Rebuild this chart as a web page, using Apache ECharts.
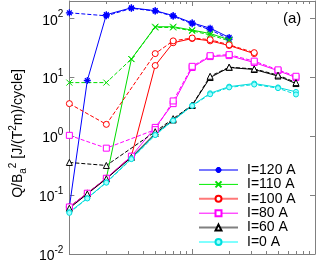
<!DOCTYPE html>
<html><head><meta charset="utf-8">
<script src="https://cdn.jsdelivr.net/npm/echarts@6/dist/echarts.min.js"></script>
<style>html,body{margin:0;padding:0;background:#fff}#c{width:330px;height:268px}</style>
</head><body><div id="c"></div>
<script>
// amplitude axis values (log axis, labels hidden in the reference)
const xValues = [10, 14, 20, 32, 50, 70, 100, 140, 200, 320, 500, 700];
// solid curves
const i120Solid = [0.063, 8.9, 117, 153, 137, 113, 85, 69, 48, null, null, null];
const i110Solid = [0.063, 0.108, 0.194, 20.6, 73, 73, 64, 56, 44, null, null, null];
const i100Solid = [0.063, 0.108, 0.194, 0.46, 16, 39, 46, 42, 35, 25.5, null, null];
const i80Solid  = [0.063, 0.108, 0.194, 0.46, 1.42, 3.6, 14.8, 22.7, 23.6, 18, 13.1, 10];
const i60Solid  = [0.06, 0.105, 0.19, 0.44, 1.12, 1.9, 3.35, 10, 14.8, 13.7, 10.6, 7.9];
const i0Solid   = [0.0515, 0.089, 0.166, 0.42, 1.07, 1.87, 3.35, 5.4, 7.0, 7.9, 6.8, 5.7];
// dashed curves
const i120Dashed = [126, null, 112, 150, 135, 110, 82, 65, 45, null, null, null];
const i110Dashed = [8.2, null, 8.2, 20.6, 71, 71, 62, 53, 42, null, null, null];
const i100Dashed = [3.6, null, 1.6, null, 25.5, 42, 47, 44, 36, 26.5, null, null];
const i80Dashed  = [1.04, null, 0.63, null, 1.3, 4.0, 15.5, 23.5, 24.5, 19, 13.5, 10.5];
const i60Dashed  = [0.36, null, 0.32, null, 1.2, 2.0, 3.4, 10.5, 15, 14, 11, 8.2];
const i0Dashed   = [0.05, 0.088, 0.163, 0.41, 1.05, 1.85, 3.3, 5.2, 6.8, 7.6, 6.6, 5.15];
const seriesNames = ['I=120 A', 'I=110 A', 'I=100 A', 'I=80 A', 'I=60 A', 'I=0 A'];
const xMajorTicks = [10, 100, 1000];
const xMinorTicks = [20, 30, 40, 50, 60, 70, 80, 90, 200, 300, 400, 500, 600, 700, 800, 900];
const yTicks = [0.01, 0.1, 1, 10, 100];

const F = '"Liberation Sans", Arial, Helvetica, sans-serif';
const frame = '#808080';
const STAR = 'path://M5,0L5,10M0,5L10,5M1.6,1.6L8.4,8.4M8.4,1.6L1.6,8.4';
const CROSS = 'path://M0,0L10,10M10,0L0,10';
const styles = [
  {color: '#0000ff', symbol: STAR, size: 7, fill: '#0000ff', bw: 1.3, legendLine: '#7878ff', lw: 2},
  {color: '#00dd00', symbol: CROSS, size: 6, fill: 'none', bw: 1, legendLine: '#00ee00', lw: 1},
  {color: '#ff0000', symbol: 'circle', size: 6, fill: '#ffffff', bw: 1, legendLine: '#ff7878', lw: 2},
  {color: '#ff00ff', symbol: 'rect', size: 6, fill: '#ffffff', bw: 1, legendLine: '#ff00ff', lw: 1},
  {color: '#000000', symbol: 'triangle', size: 6, fill: '#ffffff', bw: 1, legendLine: '#808080', lw: 2},
  {color: '#00dddd', symbol: 'circle', size: 5, fill: '#a0ffff', bw: 1, legendLine: '#00ffff', lw: 1}
];
const solids = [i120Solid, i110Solid, i100Solid, i80Solid, i60Solid, i0Solid];
const dashes = [i120Dashed, i110Dashed, i100Dashed, i80Dashed, i60Dashed, i0Dashed];

function pairs(arr) {
  const out = [];
  xValues.forEach((x, i) => { if (arr[i] != null) out.push([x, arr[i]]); });
  return out;
}
const series = [];
seriesNames.forEach((name, k) => {
  const s = styles[k];
  [[solids[k], 'solid'], [dashes[k], [4, 2]]].forEach(([arr, type]) => {
    series.push({
      name, type: 'line', xAxisIndex: 0, yAxisIndex: 0,
      data: pairs(arr), symbol: s.symbol, symbolSize: s.size, showSymbol: true,
      lineStyle: {color: s.color, width: 1, type},
      itemStyle: {color: s.fill, borderColor: s.color, borderWidth: s.bw},
      emphasis: {disabled: true}, animation: false
    });
  });
});

function xAxis(pos, major) {
  return {
    type: 'log', logBase: 10, min: 10, max: 1000, position: pos,
    axisLine: {show: major, lineStyle: {color: frame, width: 1}},
    axisTick: {show: true, inside: true, length: major ? 5 : 3, customValues: major ? xMajorTicks : xMinorTicks,
      lineStyle: {color: frame, width: 1}},
    axisLabel: {show: false}, splitLine: {show: false}, minorTick: {show: false}
  };
}
function yAxis(pos, labels) {
  return {
    type: 'log', logBase: 10, min: 0.01, max: 200, position: pos,
    axisLine: {show: true, lineStyle: {color: frame, width: 1}},
    axisTick: {show: true, inside: true, length: 5, customValues: yTicks, lineStyle: {color: frame, width: 1}},
    splitLine: {show: false},
    axisLabel: labels ? {
      show: true, margin: 6, customValues: yTicks,
      formatter: v => {
        const e = Math.round(Math.log10(v));
        return '{b|10}{s|' + e + '}';
      },
      rich: {
        b: {fontSize: 14, fontFamily: F, color: '#000', lineHeight: 18, verticalAlign: 'bottom'},
        s: {fontSize: 10, fontFamily: F, color: '#000', lineHeight: 18, verticalAlign: 'top'}
      }
    } : {show: false},
    name: labels ? 'Q/B{sub|a}{sup|2} [J/(T{sup|2}m)/cycle]' : '',
    nameLocation: 'middle', nameGap: 40, nameRotate: 90,
    nameTextStyle: {
      fontSize: 14, fontFamily: F, color: '#000', padding: [0, 12, 0, 0],
      rich: {
        sub: {fontSize: 10, fontFamily: F, color: '#000', verticalAlign: 'bottom', lineHeight: 20},
        sup: {fontSize: 10, fontFamily: F, color: '#000', verticalAlign: 'top', lineHeight: 20}
      }
    }
  };
}

const chart = echarts.init(document.getElementById('c'), null, {renderer: 'canvas'});
chart.setOption({
  animation: false,
  backgroundColor: '#fff',
  grid: {left: 62, right: 15, top: 1, bottom: 14, containLabel: false},
  title: {text: '(a)', left: 283, top: 11, padding: 0,
    textStyle: {fontSize: 15, fontWeight: 'normal', fontFamily: F, color: '#000'}},
  xAxis: [xAxis('bottom', true), xAxis('bottom', false), xAxis('top', true), xAxis('top', false)],
  yAxis: [yAxis('left', true), yAxis('right', false)],
  legend: {
    orient: 'vertical', left: 198, top: 163, itemWidth: 39, itemHeight: 7.5, itemGap: 0.4,
    selectedMode: false, padding: 0,
    textStyle: {fontSize: 14, fontFamily: F, color: '#000', padding: [0, 0, 0, 4]},
    data: seriesNames.map((name, k) => ({
      name, lineStyle: {color: styles[k].legendLine, width: styles[k].lw, type: 'solid'}
    }))
  },
  series
});
</script></body></html>
